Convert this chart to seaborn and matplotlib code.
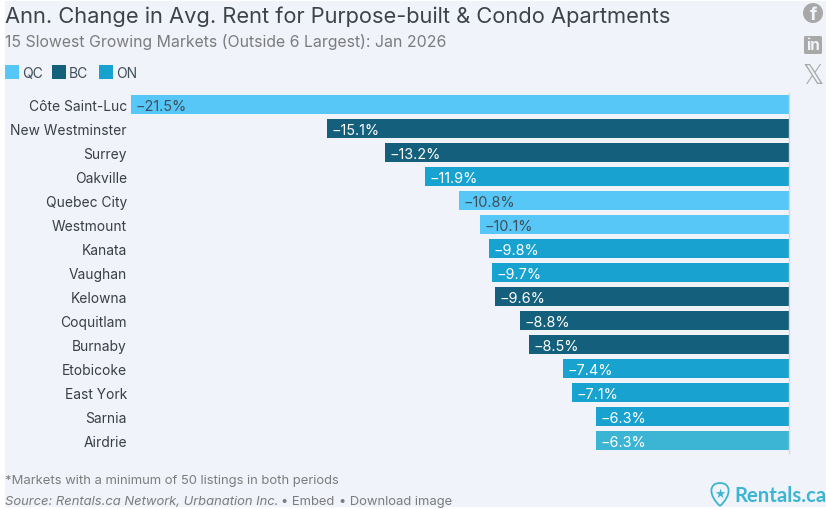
import matplotlib
matplotlib.use('Agg')
import matplotlib.pyplot as plt
from matplotlib.patches import Rectangle, Circle, PathPatch, FancyBboxPatch
from matplotlib.path import Path
import pandas as pd
import seaborn as sns

W, H = 826, 510

markets = ['Côte Saint-Luc', 'New Westminster', 'Surrey', 'Oakville', 'Quebec City',
           'Westmount', 'Kanata', 'Vaughan', 'Kelowna', 'Coquitlam', 'Burnaby',
           'Etobicoke', 'East York', 'Sarnia', 'Airdrie']
changes = [-21.5, -15.1, -13.2, -11.9, -10.8, -10.1, -9.8, -9.7, -9.6, -8.8, -8.5,
           -7.4, -7.1, -6.3, -6.3]
provinces = ['QC', 'BC', 'BC', 'ON', 'QC', 'QC', 'ON', 'ON', 'BC', 'BC', 'BC',
             'ON', 'ON', 'ON', 'AB']
province_colors = {'QC': '#57C7F7', 'BC': '#14607C', 'ON': '#18A2CF', 'AB': '#3CB5D5'}
legend_items = ['QC', 'BC', 'ON']

BG = '#F0F3F9'
TITLE = '#3D4449'
SUB = '#7C7C7C'


def fx(px):
    return px / W


def fy(px):
    return 1 - px / H


def main():
    sns.set_theme(style='white')
    plt.rcParams['font.family'] = ['Inter', 'DejaVu Sans']

    fig = plt.figure(figsize=(W / 100, H / 100), dpi=100, facecolor='white')
    fig.patches.append(Rectangle((fx(5), fy(508)), fx(821), 506 / H, transform=fig.transFigure,
                                 facecolor=BG, edgecolor='none', zorder=-10))

    # plot area, 24px per band
    ax = fig.add_axes([fx(131.4), fy(453.5), fx(657.8), 360 / H])
    ax.patch.set_alpha(0)

    df = pd.DataFrame({'market': markets, 'change': changes, 'province': provinces})
    sns.barplot(data=df, x='change', y='market', hue='province', palette=province_colors,
                dodge=False, width=0.833, legend=False, saturation=1, ax=ax, order=markets,
                linewidth=0)

    ax.set_xlim(-21.5, 0)
    ax.set_ylim(14.5, -0.5)
    ax.set_xlabel('')
    ax.set_ylabel('')
    ax.set_xticks([])
    for s in ['top', 'left', 'bottom']:
        ax.spines[s].set_visible(False)
    ax.spines['right'].set_color('#D5D8DC')
    ax.spines['right'].set_linewidth(1)
    ax.tick_params(axis='y', length=0, pad=3.2, labelsize=9.95, labelcolor='#3A3F44')

    for i, (v, p) in enumerate(zip(changes, provinces)):
        color = '#3F4E58' if p == 'QC' else 'white'
        ax.annotate(f'\u2212{abs(v):.1f}%', xy=(v, i), xytext=(3.2, -1), textcoords='offset points',
                    ha='left', va='center', fontsize=10.4, color=color)

    # header
    fig.text(fx(5), fy(23), 'Ann. Change in Avg. Rent for Purpose-built & Condo Apartments',
             fontsize=15.75, color=TITLE, va='baseline')
    fig.text(fx(5), fy(47), '15 Slowest Growing Markets (Outside 6 Largest): Jan 2026',
             fontsize=11.4, color=SUB, va='baseline')

    # legend
    for name, x0 in zip(legend_items, [5, 52, 99]):
        fig.patches.append(Rectangle((fx(x0), fy(80)), 14 / W, 14 / H, transform=fig.transFigure,
                                     facecolor=province_colors[name], edgecolor='none'))
        fig.text(fx(x0 + 17), fy(74), name, fontsize=10, color='#3F4E58', va='center')

    # footer
    fig.text(fx(5), fy(484), '*Markets with a minimum of 50 listings in both periods',
             fontsize=9.4, color=SUB, va='baseline')
    fig.text(fx(5), fy(505), 'Source: Rentals.ca Network, Urbanation Inc.', fontsize=9.35,
             color=SUB, style='italic', va='baseline')
    fig.text(fx(281), fy(505), '\u2022 Embed', fontsize=9.35, color=SUB, va='baseline')
    fig.text(fx(339), fy(505), '\u2022 Download image', fontsize=9.35, color=SUB, va='baseline')

    # share icons
    grey = '#A8A8A8'
    overlay = fig.add_axes([0, 0, 1, 1], zorder=5)
    overlay.set_xlim(0, W)
    overlay.set_ylim(H, 0)
    overlay.axis('off')
    overlay.add_patch(Circle((813, 14), 10, facecolor=grey, edgecolor='none'))
    overlay.text(814, 16, 'f', fontsize=13.5, weight='bold', color=BG, ha='center', va='center')
    overlay.add_patch(FancyBboxPatch((804, 37), 18, 18, boxstyle='round,pad=0,rounding_size=1.5',
                                     facecolor=grey, edgecolor='none'))
    overlay.text(813, 46, 'in', fontsize=11, weight='bold', color=BG, ha='center', va='center')
    overlay.text(813, 77, '\U0001D54F', fontsize=19, color=grey, ha='center', va='center',
                 family='DejaVu Sans')

    # logo
    logo = '#3CB5D5'
    pin = Path([(720, 507), (708, 496), (709, 484), (720, 484), (731, 484), (732, 496), (720, 507)],
               [Path.MOVETO, Path.CURVE4, Path.CURVE4, Path.CURVE4, Path.CURVE4, Path.CURVE4, Path.CURVE4])
    overlay.add_patch(PathPatch(pin, facecolor='none', edgecolor=logo, linewidth=1.3))
    overlay.text(720, 494, '\u2605', fontsize=9, color=logo, ha='center', va='center',
                 family='DejaVu Sans')
    overlay.text(734, 502.5, 'Rentals.ca', fontsize=14.6, weight='bold', color=logo,
                 va='baseline', family='Lato')

    fig.savefig('out.png', dpi=100, facecolor=fig.get_facecolor())


if __name__ == '__main__':
    main()
